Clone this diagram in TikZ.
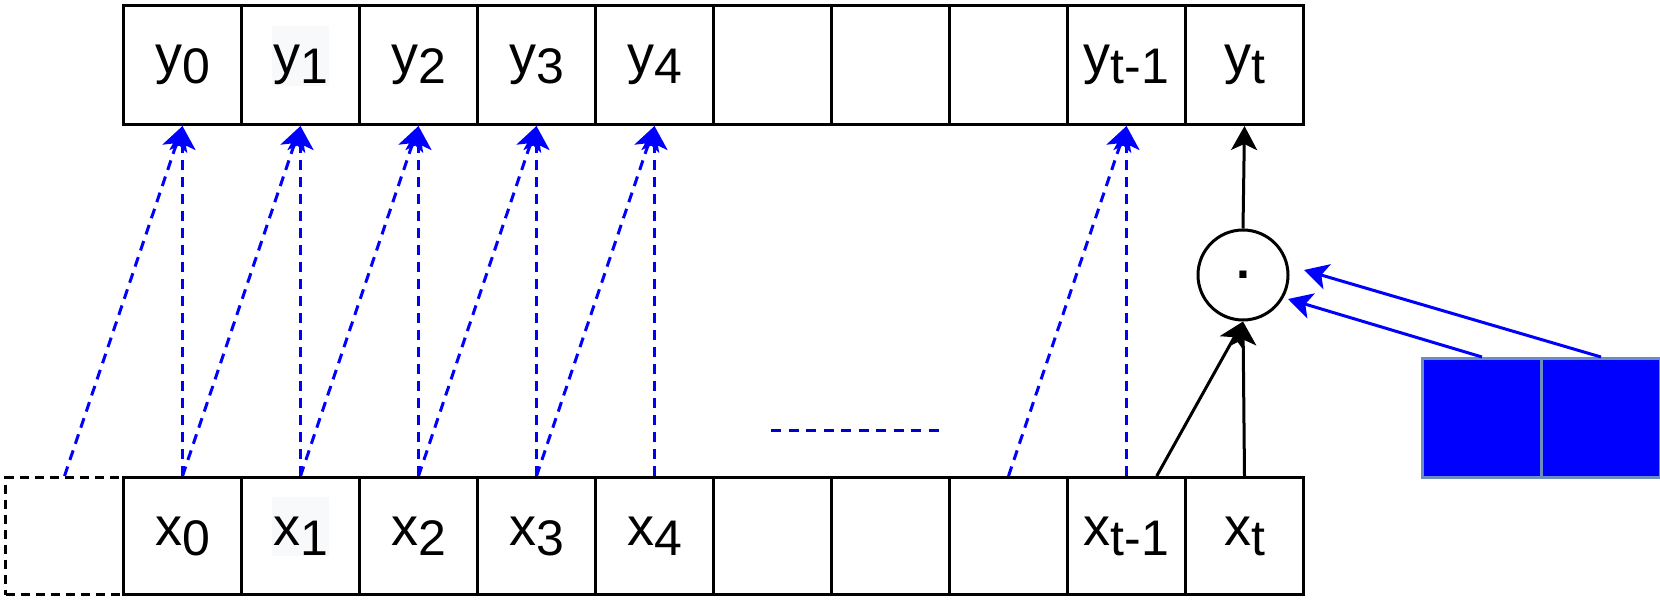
\documentclass[tikz,border=0pt]{standalone}
\usepackage{fontspec}
\setmainfont{Liberation Sans}
\usetikzlibrary{arrows.meta,calc}
\definecolor{dblue}{RGB}{0,0,255}
\definecolor{hblue}{RGB}{0,0,204}
\definecolor{bbord}{RGB}{108,142,191}
\definecolor{bgc}{RGB}{248,249,250}
\newcommand\cl[2]{\fontsize{54}{60}\selectfont #1\raisebox{-10pt}{\fontsize{50}{56}\selectfont #2}}
\newcommand\clbg[2]{\vphantom{\cl{#1}{#2}}\smash{\setlength\fboxsep{1pt}\colorbox{bgc}{\rule[-10pt]{0pt}{57pt}\cl{#1}{#2}}}}
\begin{document}
\begin{tikzpicture}[x=1pt,y=-1pt,
  cellbox/.style={draw,line width=3pt,minimum width=118pt,inner sep=0pt,anchor=north west},
  topcell/.style={cellbox,minimum height=119pt},
  botcell/.style={cellbox,minimum height=117pt},
  arr/.style={-{Stealth[length=24pt,width=26pt,inset=6pt]}},
  bdash/.style={arr,draw=dblue,line width=3pt,dash pattern=on 10pt off 7pt},
  bsolid/.style={arr,draw=dblue,line width=3pt},
  ksolid/.style={arr,draw=black,line width=3pt},
  bluebox/.style={draw=bbord,fill=dblue,line width=3pt,minimum width=119pt,minimum height=119pt,inner sep=0pt,anchor=north west}]
\useasboundingbox (0,0) rectangle (1660,603);
% top row
\node[topcell] (y0) at (122,4) {\cl{y}{0}};
\node[topcell] (y1) at (240,4) {\clbg{y}{1}};
\node[topcell] (y2) at (358,4) {\cl{y}{2}};
\node[topcell] (y3) at (476,4) {\cl{y}{3}};
\node[topcell] (y4) at (594,4) {\cl{y}{4}};
\node[topcell] (y5) at (712,4) {};
\node[topcell] (y6) at (830,4) {};
\node[topcell] (y7) at (948,4) {};
\node[topcell] (y8) at (1066,4) {\cl{y}{t-1}};
\node[topcell] (y9) at (1184,4) {\cl{y}{t}};
% bottom row
\node[botcell,dashed,dash pattern=on 9pt off 6pt] (xm) at (4,476) {};
\node[botcell] (x0) at (122,476) {\cl{x}{0}};
\node[botcell] (x1) at (240,476) {\clbg{x}{1}};
\node[botcell] (x2) at (358,476) {\cl{x}{2}};
\node[botcell] (x3) at (476,476) {\cl{x}{3}};
\node[botcell] (x4) at (594,476) {\cl{x}{4}};
\node[botcell] (x5) at (712,476) {};
\node[botcell] (x6) at (830,476) {};
\node[botcell] (x7) at (948,476) {};
\node[botcell] (x8) at (1066,476) {\cl{x}{t-1}};
\node[botcell] (x9) at (1184,476) {\cl{x}{t}};
% multiply node
\node[circle,draw,line width=3pt,minimum size=90pt,inner sep=0pt,font=\fontsize{50}{50}\selectfont\bfseries] (mul) at (1243,275) {.};
% blue boxes
\node[bluebox] (b1) at (1421,357) {};
\node[bluebox] (b2) at (1540,357) {};
% dashed connectors
\draw[bdash] (xm.north) -- (y0.south);
\draw[bdash] (x0.north) -- (y0.south);
\draw[bdash] (x0.north) -- (y1.south);
\draw[bdash] (x1.north) -- (y1.south);
\draw[bdash] (x1.north) -- (y2.south);
\draw[bdash] (x2.north) -- (y2.south);
\draw[bdash] (x2.north) -- (y3.south);
\draw[bdash] (x3.north) -- (y3.south);
\draw[bdash] (x3.north) -- (y4.south);
\draw[bdash] (x4.north) -- (y4.south);
\draw[bdash] (x7.north) -- (y8.south);
\draw[bdash] (x8.north) -- (y8.south);
% ellipsis line
\coordinate (d1) at (771,430);
\coordinate (d2) at (940,430);
\draw[draw=hblue,line width=3pt,dash pattern=on 10pt off 7.5pt] (d1) -- (d2);
% black connectors
\draw[ksolid] (x9.north) -- (mul.south);
\draw[ksolid] ($(x8.north west)!0.75!(x8.north east)$) -- (mul.south);
\draw[ksolid] (mul.north) -- (y9.south);
% blue solid connectors
\coordinate (t1) at (1288,299);
\coordinate (t2) at (1304,270);
\draw[bsolid] (b1.north) -- (t1);
\draw[bsolid] (b2.north) -- (t2);
\end{tikzpicture}
\end{document}
